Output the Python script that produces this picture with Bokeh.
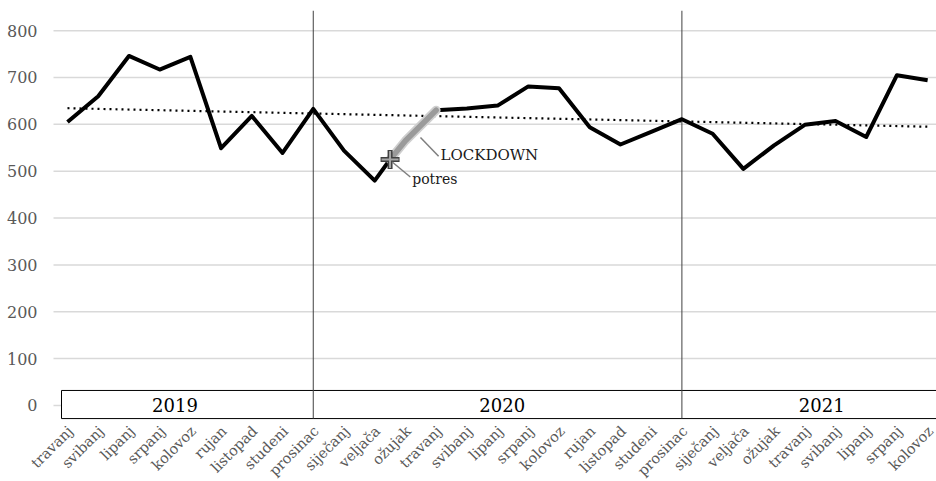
import numpy as np
from bokeh.plotting import figure
from bokeh.models import Range1d
from bokeh.core.properties import value
from bokeh.embed import file_html
from bokeh.resources import INLINE

# ---------------- data ----------------
months = ["travanj", "svibanj", "lipanj", "srpanj", "kolovoz", "rujan", "listopad", "studeni", "prosinac",
          "siječanj", "veljača", "ožujak", "travanj", "svibanj", "lipanj", "srpanj", "kolovoz", "rujan",
          "listopad", "studeni", "prosinac",
          "siječanj", "veljača", "ožujak", "travanj", "svibanj", "lipanj", "srpanj", "kolovoz"]
values = [605, 660, 746, 717, 744, 549, 618, 539, 633,
          544, 480, 565, 630, 634, 640, 681, 677, 594, 557, 584, 611,
          580, 505, 555, 599, 607, 573, 705, 694]
years = ["2019", "2020", "2021"]
year_last_index = [8, 20, 28]          # last month index of each year
potres_x = 10.5                        # earthquake (between veljača and ožujak 2020)
potres_value = 525
lockdown_end_index = 12                # travanj 2020
y_ticks = [0, 100, 200, 300, 400, 500, 600, 700, 800]

# ---------------- layout ----------------
FONT = "DejaVu Serif"
GRAY_TXT = "#595959"
PX_PER_UNIT = 0.4685                   # vertical scale (px per value unit)
PX_PER_X = 30.72                       # horizontal scale (px per month)
W, H = 936, 481
FIRST_X_PX = 67                        # pixel position of first month inside the figure

xs = list(range(len(values)))
X_LEFT = -FIRST_X_PX / PX_PER_X
X_RIGHT = X_LEFT + W / PX_PER_X
Y_TOP = 843
Y_BOT = Y_TOP - (H - 10) / PX_PER_UNIT
BOX_BOTTOM, BOX_TOP = -28, 32
GRID_LEFT = X_LEFT + 53 / PX_PER_X
BOX_LEFT = X_LEFT + 61 / PX_PER_X

p = figure(width=W, height=H, output_backend="svg", toolbar_location=None,
           x_range=Range1d(X_LEFT, X_RIGHT), y_range=Range1d(Y_BOT, Y_TOP),
           min_border_left=0, min_border_right=0, min_border_top=10, min_border_bottom=0,
           x_axis_location=None, y_axis_location=None)
p.outline_line_color = None
p.background_fill_color = "white"
p.grid.visible = False

# horizontal gridlines + value labels
n = len(y_ticks)
p.segment(x0=[GRID_LEFT] * n, y0=y_ticks, x1=[X_RIGHT + 1] * n, y1=y_ticks,
          line_color="#d9d9d9", line_width=1.5)
p.text(x=[X_LEFT + 37 / PX_PER_X] * n, y=y_ticks, text=[str(t) for t in y_ticks],
       text_font=value(FONT), text_font_size="16px", text_color=GRAY_TXT,
       text_align="right", text_baseline="middle")

# year box along the bottom
p.quad(left=[BOX_LEFT], right=[X_RIGHT + 1], bottom=[BOX_BOTTOM], top=[BOX_TOP],
       fill_color="white", line_color="black", line_width=1)

# year labels
year_label_x = [3.5, 14.15, 24.55]
p.text(x=year_label_x, y=[2] * 3, text=years, text_font=value(FONT), text_font_size="18px",
       text_color="black", text_align="center", text_baseline="middle")

# year dividers
div_x = year_last_index[:-1]
p.segment(x0=div_x, y0=[BOX_BOTTOM] * len(div_x), x1=div_x, y1=[Y_TOP] * len(div_x),
          line_color="#404040", line_width=1)

# month labels (rotated, below the year box)
p.text(x=[x + 3 / PX_PER_X for x in xs], y=[BOX_BOTTOM - 10 / PX_PER_UNIT] * len(xs), text=months,
       angle=np.pi / 4, text_align="right", text_baseline="middle",
       text_font=value(FONT), text_font_size="14.5px", text_color=GRAY_TXT)

# trend line (linear fit of the monthly series)
k, b = np.polyfit(xs, values, 1)
p.line([xs[0], xs[-1]], [k * xs[0] + b, k * xs[-1] + b], line_color="black",
       line_width=2.2, line_dash="2 4")

# main line (with the earthquake point inserted)
ins = 11
line_x = xs[:ins] + [potres_x] + xs[ins:]
line_y = values[:ins] + [potres_value] + values[ins:]
p.line(line_x, line_y, line_color="black", line_width=4, line_join="round")

# lockdown highlight
hx = [potres_x] + xs[ins:lockdown_end_index + 1]
hy = [potres_value] + values[ins:lockdown_end_index + 1]
p.line(hx, hy, line_color="#cfcfcf", line_width=9, line_join="round", line_cap="round")
p.line(hx, hy, line_color="#9a9a9a", line_width=5.5, line_join="round", line_cap="round")

# earthquake marker
p.scatter([potres_x], [potres_value], marker="cross", size=19, line_color="#404040", line_width=5)
p.scatter([potres_x], [potres_value], marker="cross", size=17, line_color="#a6a6a6", line_width=2)

# annotations
p.segment(x0=[11.49, 10.57], y0=[572, 519.6], x1=[12.08, 11.16], y1=[531.7, 487.6],
          line_color="#7f7f7f", line_width=1.5)
p.text(x=[12.14], y=[534], text=["LOCKDOWN"], text_font=value(FONT), text_font_size="15px",
       text_color="#1a1a1a", text_align="left", text_baseline="middle")
p.text(x=[11.22], y=[482.6], text=["potres"], text_font=value(FONT), text_font_size="14px",
       text_color="#1a1a1a", text_align="left", text_baseline="middle")

open("out.html", "w").write(file_html(p, INLINE))
